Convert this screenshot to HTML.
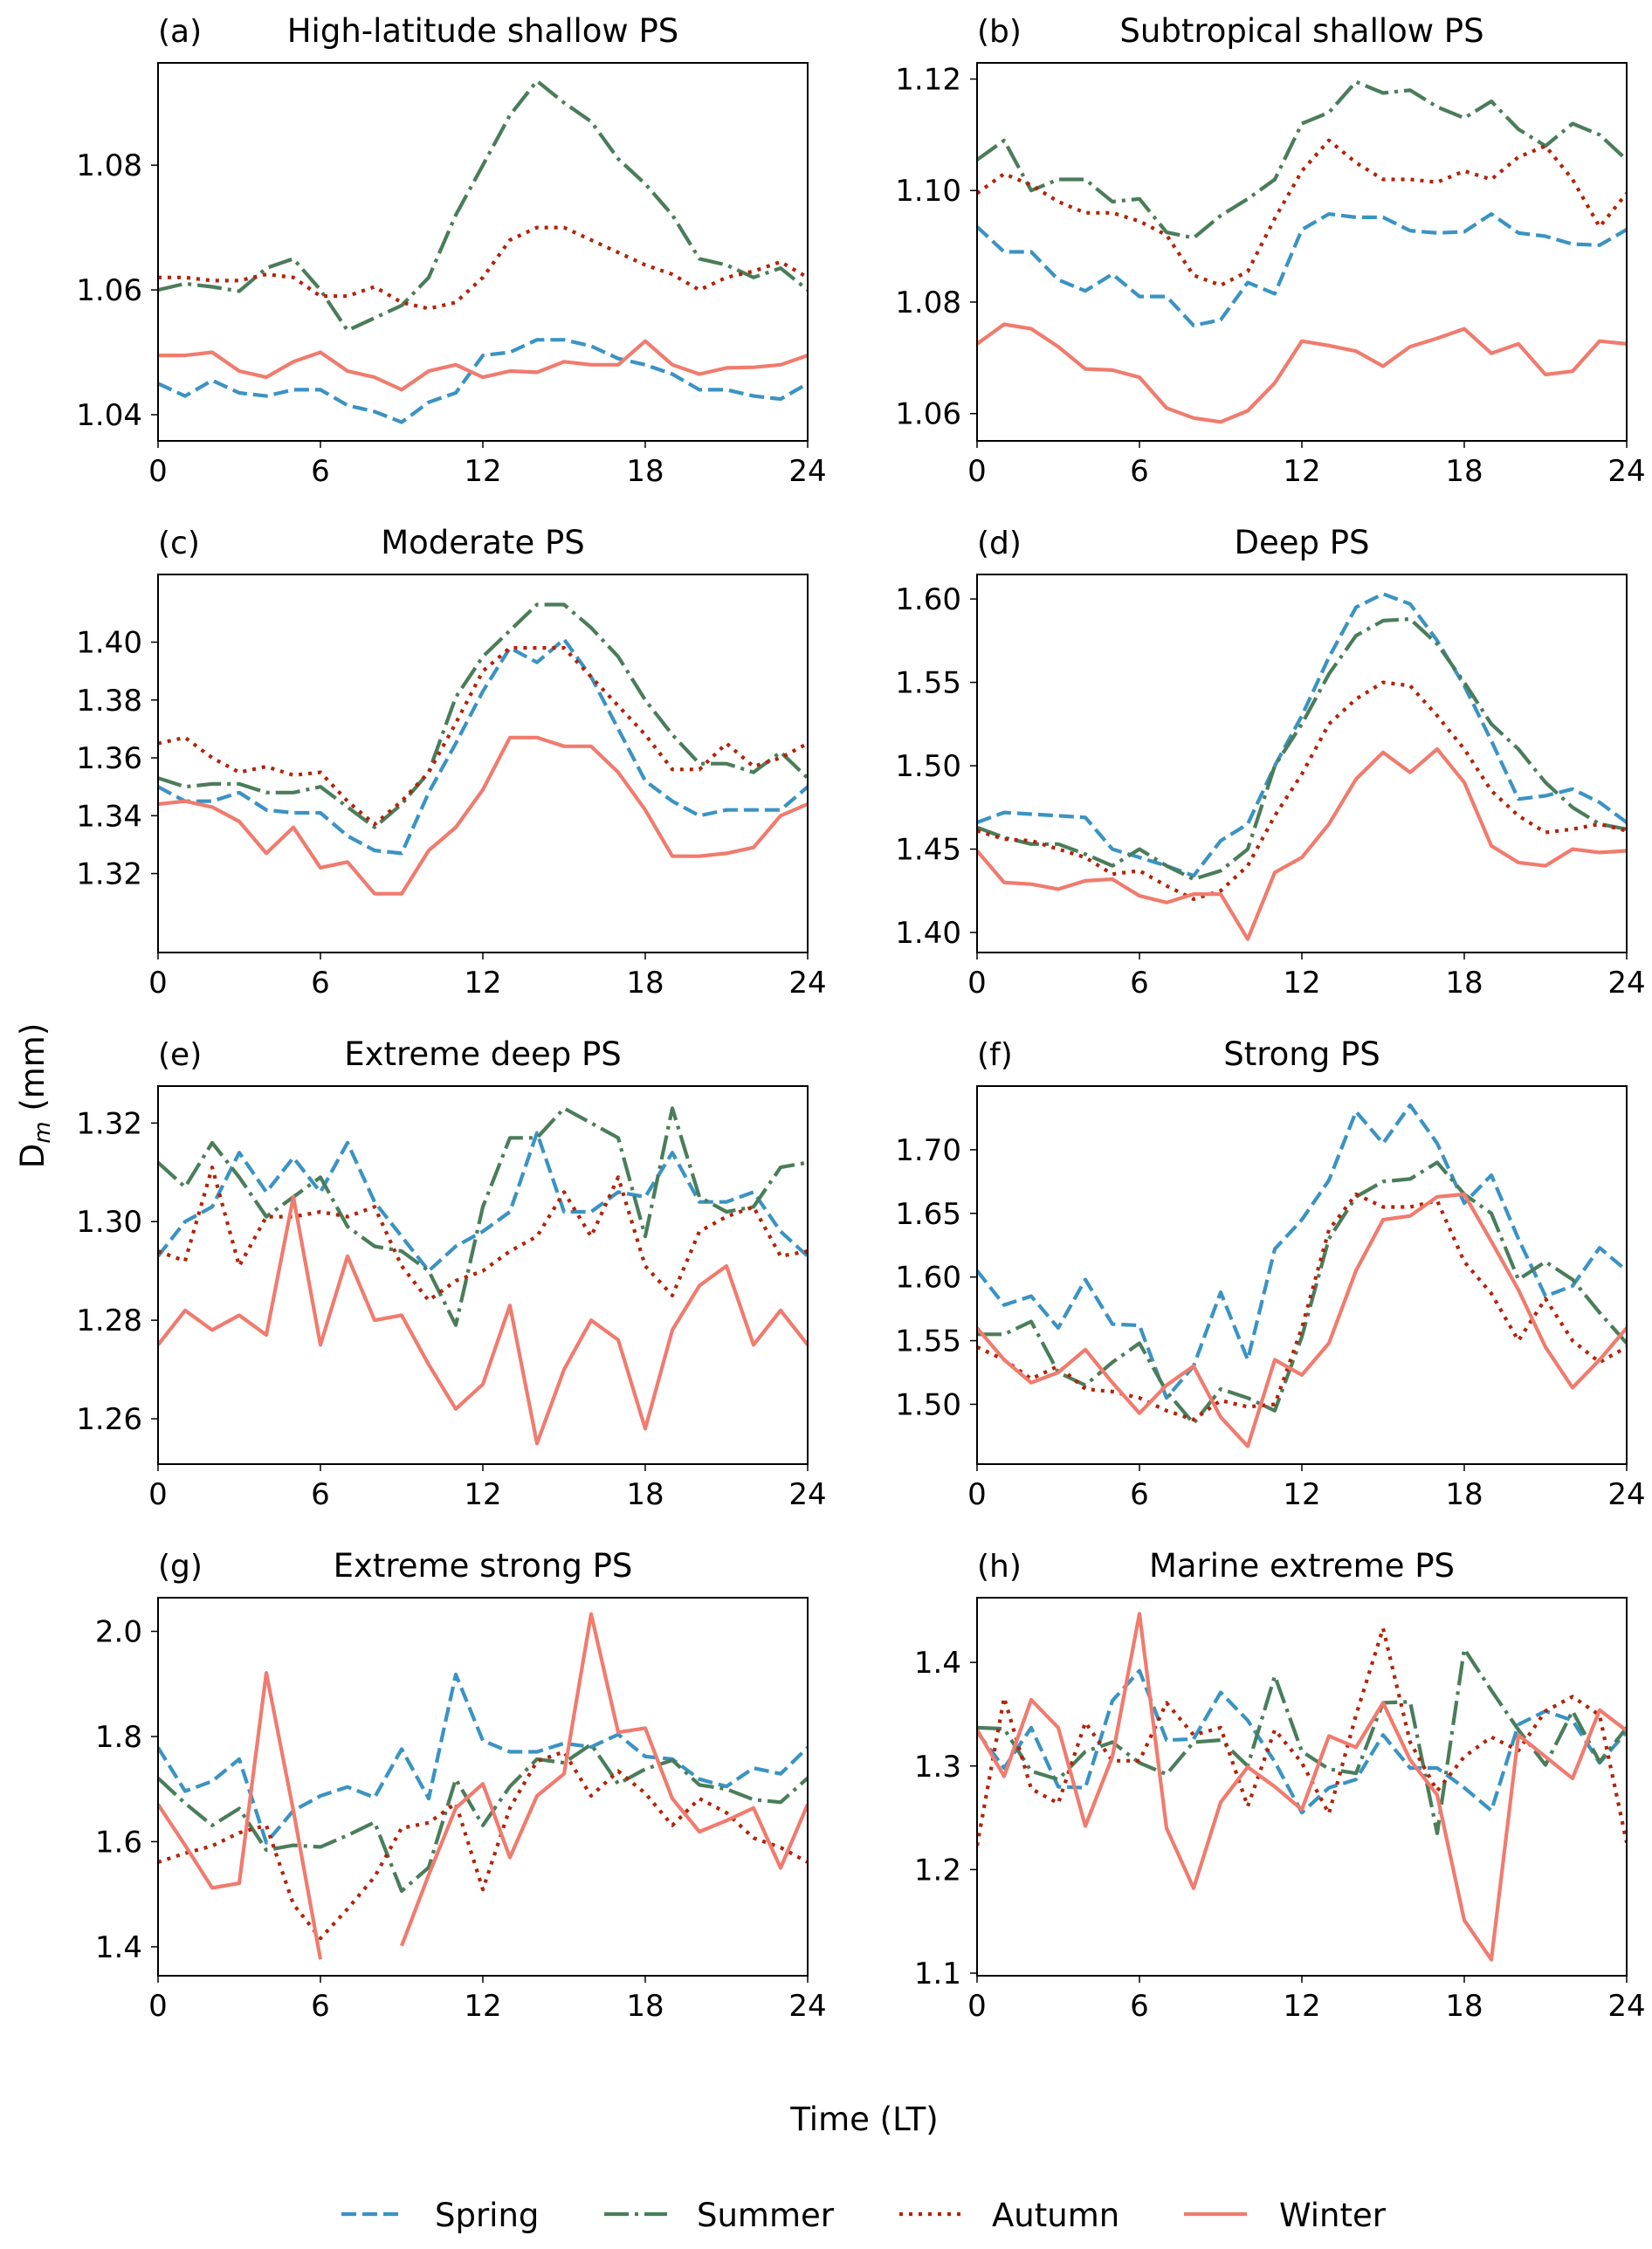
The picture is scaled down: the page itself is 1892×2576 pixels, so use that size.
<!DOCTYPE html>
<html><head><meta charset="utf-8">
<style>
html,body{margin:0;padding:0;background:#fff;}
svg{display:block;font-family:"DejaVu Sans","Liberation Sans",sans-serif;}
</style></head>
<body>
<svg id="chart" width="1892" height="2576" viewBox="0 0 1892 2576" xmlns="http://www.w3.org/2000/svg">
<rect width="1892" height="2576" fill="#fff"/>
<g id="panels"></g>
<text transform="translate(50,1255) rotate(-90)" text-anchor="middle" font-size="37">D<tspan font-style="italic" font-size="26" dy="7">m</tspan><tspan dy="-7"> (mm)</tspan></text>
<text x="990" y="2440" text-anchor="middle" font-size="37">Time (LT)</text>
<g id="legend"></g>
</svg>
<script>
const hours = [0,1,2,3,4,5,6,7,8,9,10,11,12,13,14,15,16,17,18,19,20,21,22,23,24];
const xTicks = [0,6,12,18,24];
const seriesNames = ["Spring","Summer","Autumn","Winter"];
const panelTitles = ["High-latitude shallow PS","Subtropical shallow PS","Moderate PS","Deep PS","Extreme deep PS","Strong PS","Extreme strong PS","Marine extreme PS"];
const panelLetters = ["(a)","(b)","(c)","(d)","(e)","(f)","(g)","(h)"];
const yDomains = [[1.0358,1.0964],[1.0551,1.1229],[1.2927,1.4234],[1.388,1.6147],[1.2508,1.3275],[1.453,1.750],[1.345,2.064],[1.0975,1.4625]];
const yTicks = [[1.04,1.06,1.08],[1.06,1.08,1.10,1.12],[1.32,1.34,1.36,1.38,1.40],[1.40,1.45,1.50,1.55,1.60],[1.26,1.28,1.30,1.32],[1.50,1.55,1.60,1.65,1.70],[1.4,1.6,1.8,2.0],[1.1,1.2,1.3,1.4]];
const yTickLabels = [["1.04","1.06","1.08"],["1.06","1.08","1.10","1.12"],["1.32","1.34","1.36","1.38","1.40"],["1.40","1.45","1.50","1.55","1.60"],["1.26","1.28","1.30","1.32"],["1.50","1.55","1.60","1.65","1.70"],["1.4","1.6","1.8","2.0"],["1.1","1.2","1.3","1.4"]];

const aSpring=[1.045,1.043,1.0455,1.0435,1.043,1.044,1.044,1.0415,1.0405,1.0388,1.042,1.0435,1.0495,1.050,1.052,1.052,1.051,1.049,1.048,1.0465,1.044,1.044,1.043,1.0425,1.045];
const aSummer=[1.060,1.061,1.0605,1.0598,1.0635,1.065,1.060,1.0535,1.0555,1.0575,1.062,1.072,1.080,1.088,1.0935,1.090,1.087,1.081,1.077,1.072,1.065,1.064,1.062,1.0635,1.060];
const aAutumn=[1.062,1.062,1.0615,1.0615,1.0625,1.062,1.059,1.059,1.0605,1.058,1.057,1.058,1.062,1.068,1.070,1.070,1.068,1.066,1.064,1.0625,1.060,1.062,1.063,1.0645,1.062];
const aWinter=[1.0495,1.0495,1.050,1.047,1.046,1.0485,1.050,1.047,1.046,1.044,1.047,1.048,1.046,1.047,1.0468,1.0485,1.048,1.048,1.0518,1.048,1.0465,1.0475,1.0476,1.048,1.0495];

const bSpring=[1.0935,1.089,1.089,1.084,1.082,1.085,1.081,1.081,1.0758,1.0768,1.0835,1.0815,1.093,1.0958,1.0952,1.0952,1.0928,1.0924,1.0926,1.0958,1.0924,1.0918,1.0904,1.0902,1.093];
const bSummer=[1.1055,1.109,1.100,1.102,1.102,1.098,1.0985,1.0925,1.0915,1.0955,1.0985,1.102,1.112,1.114,1.1195,1.1175,1.118,1.115,1.113,1.116,1.111,1.108,1.112,1.110,1.1055];
const bAutumn=[1.0995,1.103,1.101,1.098,1.096,1.096,1.0945,1.092,1.0848,1.083,1.0855,1.095,1.1035,1.109,1.105,1.102,1.102,1.1015,1.1035,1.102,1.106,1.108,1.102,1.0935,1.0995];
const bWinter=[1.0725,1.076,1.0752,1.072,1.068,1.0678,1.0665,1.061,1.0592,1.0585,1.0605,1.0655,1.073,1.0722,1.0712,1.0685,1.072,1.0735,1.0752,1.0708,1.0725,1.067,1.0676,1.073,1.0725];

const cSpring=[1.350,1.345,1.345,1.348,1.342,1.341,1.341,1.333,1.328,1.327,1.348,1.365,1.383,1.398,1.393,1.401,1.388,1.370,1.352,1.345,1.340,1.342,1.342,1.342,1.350];
const cSummer=[1.353,1.350,1.351,1.351,1.348,1.348,1.350,1.343,1.336,1.344,1.355,1.381,1.395,1.404,1.413,1.413,1.405,1.395,1.380,1.368,1.358,1.358,1.355,1.362,1.353];
const cAutumn=[1.365,1.367,1.360,1.355,1.357,1.354,1.355,1.345,1.337,1.345,1.355,1.372,1.390,1.398,1.398,1.398,1.388,1.378,1.368,1.356,1.356,1.365,1.357,1.360,1.365];
const cWinter=[1.344,1.345,1.343,1.338,1.327,1.336,1.322,1.324,1.313,1.313,1.328,1.336,1.349,1.367,1.367,1.364,1.364,1.355,1.342,1.326,1.326,1.327,1.329,1.340,1.344];

const dSpring=[1.466,1.472,1.471,1.470,1.469,1.450,1.445,1.440,1.434,1.455,1.465,1.500,1.530,1.565,1.595,1.603,1.597,1.575,1.548,1.515,1.480,1.482,1.486,1.478,1.466];
const dSummer=[1.463,1.457,1.453,1.453,1.447,1.440,1.450,1.440,1.432,1.437,1.450,1.500,1.525,1.555,1.578,1.587,1.588,1.573,1.550,1.525,1.510,1.490,1.475,1.465,1.462];
const dAutumn=[1.461,1.456,1.455,1.450,1.445,1.435,1.437,1.428,1.420,1.425,1.440,1.470,1.495,1.525,1.540,1.550,1.548,1.530,1.510,1.485,1.470,1.460,1.462,1.465,1.461];
const dWinter=[1.449,1.430,1.429,1.426,1.431,1.432,1.422,1.418,1.423,1.423,1.396,1.436,1.445,1.465,1.492,1.508,1.496,1.510,1.490,1.452,1.442,1.440,1.450,1.448,1.449];

const eSpring=[1.293,1.300,1.303,1.314,1.306,1.313,1.306,1.316,1.304,1.297,1.290,1.295,1.298,1.302,1.318,1.302,1.302,1.306,1.305,1.314,1.304,1.304,1.306,1.298,1.293];
const eSummer=[1.312,1.307,1.316,1.309,1.301,1.305,1.309,1.299,1.295,1.294,1.290,1.279,1.303,1.317,1.317,1.323,1.320,1.317,1.297,1.323,1.305,1.302,1.303,1.311,1.312];
const eAutumn=[1.294,1.292,1.311,1.291,1.301,1.301,1.302,1.301,1.303,1.291,1.284,1.288,1.290,1.294,1.297,1.306,1.297,1.309,1.291,1.285,1.298,1.301,1.303,1.293,1.294];
const eWinter=[1.275,1.282,1.278,1.281,1.277,1.305,1.275,1.293,1.280,1.281,1.271,1.262,1.267,1.283,1.255,1.270,1.280,1.276,1.258,1.278,1.287,1.291,1.275,1.282,1.275];

const fSpring=[1.605,1.578,1.585,1.560,1.598,1.563,1.562,1.505,1.530,1.588,1.535,1.622,1.645,1.676,1.730,1.705,1.735,1.705,1.658,1.680,1.630,1.585,1.593,1.623,1.605];
const fSummer=[1.555,1.555,1.565,1.525,1.515,1.533,1.548,1.510,1.485,1.512,1.505,1.495,1.553,1.630,1.663,1.675,1.677,1.690,1.665,1.650,1.598,1.612,1.598,1.572,1.548];
const fAutumn=[1.545,1.535,1.520,1.530,1.512,1.510,1.505,1.495,1.488,1.503,1.498,1.500,1.560,1.637,1.665,1.655,1.655,1.660,1.612,1.587,1.550,1.583,1.550,1.533,1.545];
const fWinter=[1.560,1.535,1.517,1.525,1.543,1.517,1.493,1.515,1.530,1.490,1.467,1.535,1.523,1.548,1.605,1.645,1.648,1.663,1.665,1.628,1.590,1.545,1.513,1.535,1.560];

const gSpring=[1.779,1.696,1.715,1.757,1.598,1.659,1.687,1.704,1.684,1.776,1.682,1.918,1.792,1.771,1.771,1.787,1.780,1.804,1.762,1.757,1.719,1.705,1.740,1.729,1.779];
const gSummer=[1.721,1.673,1.631,1.663,1.584,1.593,1.590,1.612,1.637,1.506,1.551,1.719,1.631,1.705,1.757,1.750,1.785,1.710,1.738,1.755,1.708,1.700,1.680,1.675,1.721];
const gAutumn=[1.561,1.578,1.592,1.617,1.631,1.481,1.416,1.472,1.533,1.626,1.636,1.673,1.509,1.664,1.753,1.771,1.687,1.734,1.692,1.631,1.682,1.655,1.607,1.589,1.561];
const gWinter=[1.671,1.593,1.512,1.521,1.921,1.659,1.376,null,null,1.402,1.537,1.664,1.710,1.570,1.687,1.729,2.033,1.808,1.816,1.682,1.619,1.640,1.664,1.550,1.671];

const hSpring=[1.333,1.298,1.337,1.280,1.279,1.363,1.392,1.325,1.326,1.371,1.344,1.304,1.255,1.279,1.287,1.330,1.298,1.298,1.279,1.257,1.340,1.353,1.344,1.303,1.333];
const hSummer=[1.337,1.336,1.295,1.287,1.314,1.323,1.303,1.292,1.323,1.325,1.300,1.387,1.314,1.297,1.293,1.361,1.362,1.235,1.413,1.373,1.335,1.301,1.353,1.304,1.337];
const hAutumn=[1.223,1.366,1.278,1.264,1.342,1.305,1.305,1.361,1.330,1.337,1.261,1.335,1.303,1.254,1.349,1.433,1.323,1.276,1.309,1.328,1.315,1.353,1.367,1.349,1.226];
const hWinter=[1.335,1.290,1.364,1.337,1.242,1.309,1.447,1.240,1.182,1.265,1.299,1.280,1.258,1.329,1.318,1.361,1.306,1.272,1.151,1.113,1.330,1.309,1.288,1.354,1.334];

const panelData = [[aSpring,aSummer,aAutumn,aWinter],[bSpring,bSummer,bAutumn,bWinter],[cSpring,cSummer,cAutumn,cWinter],[dSpring,dSummer,dAutumn,dWinter],[eSpring,eSummer,eAutumn,eWinter],[fSpring,fSummer,fAutumn,fWinter],[gSpring,gSummer,gAutumn,gWinter],[hSpring,hSummer,hAutumn,hWinter]];

const NS="http://www.w3.org/2000/svg";
const colors=["#3a93c3","#4a7d5a","#b32208","#f07b6e"];
const dashes=["17,7","28,7,4,7","4,7",""];
const colX=[181,1119], rowY=[72,658,1244,1830], W=744, H=433;
function mk(tag,attrs,parent){const e=document.createElementNS(NS,tag);for(const k in attrs)e.setAttribute(k,attrs[k]);parent.appendChild(e);return e;}
const root=document.getElementById('panels');
panelData.forEach((series,p)=>{
  const x0=colX[p%2], y0=rowY[Math.floor(p/2)];
  const dom=yDomains[p];
  const sx=h=>x0+h/24*W;
  const sy=v=>y0+H-(v-dom[0])/(dom[1]-dom[0])*H;
  const g=mk('g',{},root);
  
  
  const lt=mk('text',{x:x0,y:y0-24,'font-size':36},g);
  lt.textContent=panelLetters[p];
  
  
  const tt=mk('text',{x:x0+W/2,y:y0-24,'font-size':37,'text-anchor':'middle'},g);
  tt.textContent=panelTitles[p];
  
  
  const cid='clip'+p;
  const cp=mk('clipPath',{id:cid},g);
  mk('rect',{x:x0,y:y0,width:W,height:H},cp);
  series.forEach((vals,s)=>{
    let d='',pen=false;
    vals.forEach((v,i)=>{
      if(v===null){pen=false;return;}
      d+=(pen?'L':'M')+sx(hours[i]).toFixed(1)+','+sy(v).toFixed(1);
      pen=true;
    });
    const path=mk('path',{d:d,fill:'none',stroke:colors[s],'stroke-width':4.2,'stroke-dasharray':dashes[s],'clip-path':'url(#'+cid+')','stroke-linejoin':'round'},g);
    
    
  });
  const fr=mk('rect',{x:x0,y:y0,width:W,height:H,fill:'none',stroke:'#000','stroke-width':2},g);
  
  
  xTicks.forEach(t=>{
    mk('line',{x1:sx(t),x2:sx(t),y1:y0+H,y2:y0+H+8,stroke:'#000','stroke-width':1.5},g);
    const tx=mk('text',{x:sx(t),y:y0+H+46,'font-size':34,'text-anchor':'middle'},g);
    tx.textContent=String(t);
    
    
  });
  yTicks[p].forEach((t,i)=>{
    const y=sy(t);
    mk('line',{x1:x0-8,x2:x0,y1:y,y2:y,stroke:'#000','stroke-width':1.5},g);
    const ty=mk('text',{x:x0-18,y:y+12,'font-size':34,'text-anchor':'end'},g);
    ty.textContent=yTickLabels[p][i];
    
    
  });
});
const leg=document.getElementById('legend');
const legX=[391,692,1030,1356], legTX=[498,798,1136,1465];
seriesNames.forEach((n,s)=>{
  const ln=mk('line',{x1:legX[s],x2:legX[s]+72,y1:2536,y2:2536,stroke:colors[s],'stroke-width':4.2,'stroke-dasharray':dashes[s]},leg);
  
  
  const t=mk('text',{x:legTX[s],y:2550,'font-size':37},leg);
  t.textContent=n;
  
  
});
</script>
</body></html>
